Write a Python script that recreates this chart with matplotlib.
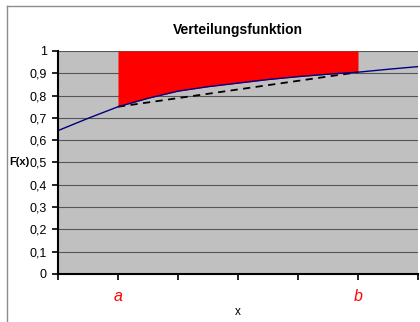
import numpy as np
import matplotlib.pyplot as plt
from matplotlib.lines import Line2D

plt.rcParams['font.family'] = ['Liberation Sans', 'DejaVu Sans']

# distribution function, read at tick positions (x in tick units)
x = [0, 0.5, 1, 1.5, 2, 2.5, 3, 3.5, 4, 4.5, 5, 5.5, 6]
F = [0.643, 0.698, 0.750, 0.788, 0.820, 0.840, 0.856, 0.872, 0.885, 0.896, 0.905, 0.918, 0.930]
a_pos, b_pos = 1, 5
Fa, Fb = 0.750, 0.905
yticks = [0, 0.1, 0.2, 0.3, 0.4, 0.5, 0.6, 0.7, 0.8, 0.9, 1]
xtick_labels = ['', 'a', '', '', '', 'b', '']

fig = plt.figure(figsize=(4.2, 3.22), dpi=100)
ax = fig.add_axes([58/420, 48/322, 360/420, 223/322])
ax.set_facecolor('#c0c0c0')

x = np.array(x)
F = np.array(F)
sel = (x >= a_pos) & (x <= b_pos)
ax.fill_between(x[sel], F[sel], 1, color='#ff0000', lw=0, zorder=2)
ax.plot(x, F, color='#000080', lw=1, zorder=4)
ax.plot([a_pos, b_pos], [Fa, Fb], color='black', lw=1.3, ls=(0, (4, 3)), zorder=3)

ax.set_xlim(0, 6)
ax.set_ylim(0, 1)
ax.set_yticks(yticks)
ax.set_yticklabels([('%g' % v).replace('.', ',') for v in yticks], fontsize=9)
ax.set_xticks(range(7))
ax.set_xticklabels(xtick_labels, fontsize=11.5, style='italic', color='red')
ax.tick_params(axis='both', direction='out', length=4, width=1.2, color='black')
ax.tick_params(axis='x', pad=7)
ax.tick_params(axis='y', pad=4)
ax.grid(axis='y', color='#555555', lw=0.8, zorder=1)
ax.set_axisbelow(True)
for s in ['top', 'right']:
    ax.spines[s].set_visible(False)
for s in ['left', 'bottom']:
    ax.spines[s].set_linewidth(1.5)
    ax.spines[s].set_zorder(5)

ax.set_title('Verteilungsfunktion', fontsize=10, fontweight='bold', pad=12)
ax.set_xlabel('x', fontsize=8.5, labelpad=1)
fig.text(19/420, 1 - 162/322, 'F(x)', fontsize=8, fontweight='bold', ha='center', va='center')

# chart frame
fig.add_artist(Line2D([7/420, 7/420], [0, 1 - 6/322], color='#8c8c8c', lw=1))
fig.add_artist(Line2D([7/420, 1], [1 - 6/322, 1 - 6/322], color='#8c8c8c', lw=1))

fig.savefig('out.png', dpi=100)
